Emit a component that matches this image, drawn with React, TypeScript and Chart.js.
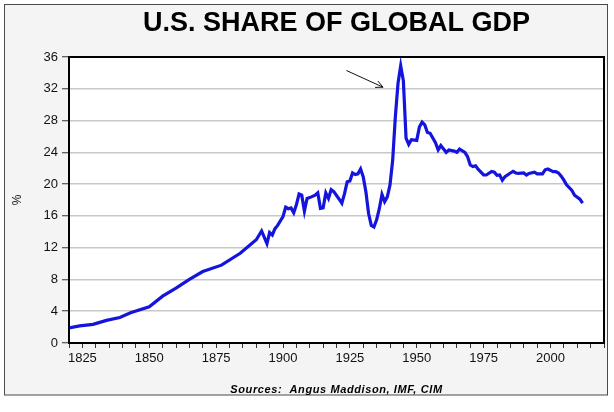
import React, { useEffect, useRef } from 'react';
import { Chart, registerables } from 'chart.js';

Chart.register(...registerables);

// ---- Data ----
const years = [
  1820, 1824, 1829, 1834, 1839, 1843, 1850, 1855, 1860, 1865, 1870, 1877, 1884, 1890,
  1892, 1894, 1895, 1896, 1897, 1898, 1900, 1901, 1902, 1903, 1904, 1905, 1906, 1907,
  1908, 1909, 1910, 1912, 1913, 1914, 1915, 1916, 1917, 1918, 1919, 1921, 1922, 1923,
  1924, 1925, 1926, 1927, 1928, 1929, 1930, 1931, 1932, 1933, 1934, 1935, 1936, 1937,
  1938, 1939, 1940, 1941, 1942, 1943, 1944, 1945, 1946, 1947, 1948, 1950, 1951, 1952,
  1953, 1954, 1955, 1956, 1957, 1958, 1959, 1961, 1962, 1964, 1965, 1966, 1968, 1969,
  1970, 1971, 1972, 1973, 1975, 1976, 1978, 1979, 1980, 1981, 1982, 1983, 1985, 1986,
  1987, 1988, 1990, 1991, 1992, 1994, 1995, 1997, 1998, 1999, 2001, 2002, 2003, 2004,
  2005, 2006, 2008, 2009, 2011, 2012,
];
const shares = [
  1.9, 2.15, 2.35, 2.85, 3.2, 3.8, 4.55, 5.9, 6.9, 8.0, 9.0, 9.8, 11.3, 13.0,
  14.1, 12.5, 13.9, 13.6, 14.4, 14.8, 15.9, 17.1, 16.9, 17.0, 16.4, 17.4, 18.75, 18.6,
  16.6, 18.2, 18.3, 18.6, 18.9, 16.95, 17.0, 18.9, 18.2, 19.3, 19.05, 18.1, 17.6, 18.8,
  20.3, 20.4, 21.4, 21.2, 21.3, 21.9, 20.9, 19.0, 16.3, 14.8, 14.6, 15.5, 16.9, 18.7,
  17.8, 18.4, 19.9, 23.0, 28.5, 32.7, 34.9, 33.0, 25.8, 25.0, 25.6, 25.5, 27.2, 27.8,
  27.45, 26.5, 26.4, 25.8, 25.2, 24.3, 24.85, 24.0, 24.3, 24.15, 24.0, 24.4, 24.0, 23.45,
  22.4, 22.2, 22.3, 21.85, 21.15, 21.15, 21.6, 21.5, 21.1, 21.15, 20.5, 20.95, 21.4, 21.6,
  21.4, 21.35, 21.4, 21.15, 21.35, 21.5, 21.3, 21.3, 21.8, 21.9, 21.56, 21.56, 21.4, 21.0,
  20.5, 19.9, 19.2, 18.6, 18.1, 17.6,
];

const xMin = 1820;
const xMax = 2020;
const yMin = 0;
const yMax = 36;
const yStep = 4;
const xStep = 5;
const xLabelEvery = 25;

// arrow annotation pointing at the WWII peak: [year, value]
const arrowFrom = [1923.7, 34.3];
const arrowTo = [1937.4, 32.2];

const titleText = 'U.S. SHARE OF GLOBAL GDP';
const yTitleText = '%';
const sourceText = 'Sources:  Angus Maddison, IMF, CIM';

const FONT = "'Liberation Sans', Arial, Helvetica, sans-serif";

const framePlugin = {
  id: 'frameDecor',
  beforeDraw(chart: any) {
    const { ctx, width, height, chartArea } = chart;
    ctx.save();
    ctx.fillStyle = '#ffffff';
    ctx.fillRect(0, 0, width, height);
    ctx.fillStyle = '#f4f4f4';
    ctx.fillRect(4, 4, 604, 391);
    ctx.strokeStyle = '#4a4a4a';
    ctx.lineWidth = 1;
    ctx.strokeRect(4.5, 4.5, 603, 390.5);
    ctx.fillStyle = '#ffffff';
    ctx.fillRect(chartArea.left, chartArea.top, chartArea.right - chartArea.left, chartArea.bottom - chartArea.top);
    ctx.restore();
  },
  afterDraw(chart: any) {
    const { ctx, chartArea } = chart;
    const xs = chart.scales.x;
    const ys = chart.scales.y;
    const cx = (chartArea.left + chartArea.right) / 2;
    ctx.save();
    // plot border
    ctx.strokeStyle = '#000000';
    ctx.lineWidth = 2;
    ctx.strokeRect(chartArea.left, chartArea.top, chartArea.right - chartArea.left, chartArea.bottom - chartArea.top);

    // title
    ctx.fillStyle = '#000000';
    ctx.font = `bold 27px ${FONT}`;
    ctx.textAlign = 'center';
    ctx.textBaseline = 'alphabetic';
    ctx.fillText(titleText, cx, 31);

    // y title
    ctx.save();
    ctx.translate(18, 200);
    ctx.rotate(-Math.PI / 2);
    ctx.font = `12px ${FONT}`;
    ctx.textAlign = 'center';
    ctx.textBaseline = 'middle';
    ctx.fillStyle = '#111111';
    ctx.fillText(yTitleText, 0, 0);
    ctx.restore();

    // sources
    ctx.font = `italic bold 11px ${FONT}`;
    (ctx as any).letterSpacing = '0.6px';
    ctx.textAlign = 'center';
    ctx.textBaseline = 'alphabetic';
    ctx.fillStyle = '#000000';
    ctx.fillText(sourceText, cx, 393);
    (ctx as any).letterSpacing = '0px';

    // arrow
    const x0 = xs.getPixelForValue(arrowFrom[0]);
    const y0 = ys.getPixelForValue(arrowFrom[1]);
    const x1 = xs.getPixelForValue(arrowTo[0]);
    const y1 = ys.getPixelForValue(arrowTo[1]);
    const ang = Math.atan2(y1 - y0, x1 - x0);
    const hl = 8;
    const spread = 0.45;
    ctx.strokeStyle = '#111111';
    ctx.lineWidth = 1;
    ctx.beginPath();
    ctx.moveTo(x0, y0);
    ctx.lineTo(x1, y1);
    ctx.moveTo(x1 - hl * Math.cos(ang - spread), y1 - hl * Math.sin(ang - spread));
    ctx.lineTo(x1, y1);
    ctx.lineTo(x1 - hl * Math.cos(ang + spread), y1 - hl * Math.sin(ang + spread));
    ctx.stroke();
    ctx.restore();
  },
};

export default function App() {
  const canvasRef = useRef<HTMLCanvasElement | null>(null);

  useEffect(() => {
    if (!canvasRef.current) return;
    const points = years.map((yr, i) => ({ x: yr, y: shares[i] }));
    const chart = new Chart(canvasRef.current, {
      type: 'line',
      data: {
        datasets: [
          {
            label: 'U.S. share of global GDP',
            data: points,
            borderColor: '#1414dc',
            borderWidth: 3.2,
            pointRadius: 0,
            tension: 0,
            fill: false,
          },
        ],
      },
      options: {
        animation: false,
        responsive: true,
        maintainAspectRatio: false,
        layout: { padding: { left: 0, right: 10, top: 57, bottom: 39 } },
        plugins: {
          legend: { display: false },
          tooltip: { enabled: false },
          title: { display: false },
        },
        scales: {
          x: {
            type: 'linear',
            min: xMin,
            max: xMax,
            afterFit: (scale: any) => {
              scale.height = 30;
            },
            border: { display: false },
            grid: {
              display: true,
              drawOnChartArea: false,
              drawTicks: true,
              tickLength: 5,
              tickColor: '#333333',
              tickWidth: 1,
            },
            ticks: {
              stepSize: xStep,
              autoSkip: false,
              maxRotation: 0,
              padding: 3,
              color: '#111111',
              font: { family: FONT, size: 13 },
              callback: (v: any) => {
                const n = Math.round(Number(v));
                return (n - 1825) % xLabelEvery === 0 ? String(n) : '';
              },
            },
          },
          y: {
            type: 'linear',
            min: yMin,
            max: yMax,
            afterFit: (scale: any) => {
              scale.width = 69;
            },
            border: { display: false },
            grid: {
              color: '#c8c8c8',
              lineWidth: 1.5,
              drawTicks: true,
              tickLength: 7,
              tickColor: '#333333',
              tickWidth: 1,
            },
            ticks: {
              stepSize: yStep,
              padding: 4,
              color: '#111111',
              font: { family: FONT, size: 13 },
            },
          },
        },
      },
      plugins: [framePlugin],
    });
    return () => chart.destroy();
  }, []);

  return (
    <div style={{ position: 'absolute', left: 0, top: 0, width: 614, height: 412 }}>
      <canvas ref={canvasRef} />
    </div>
  );
}
